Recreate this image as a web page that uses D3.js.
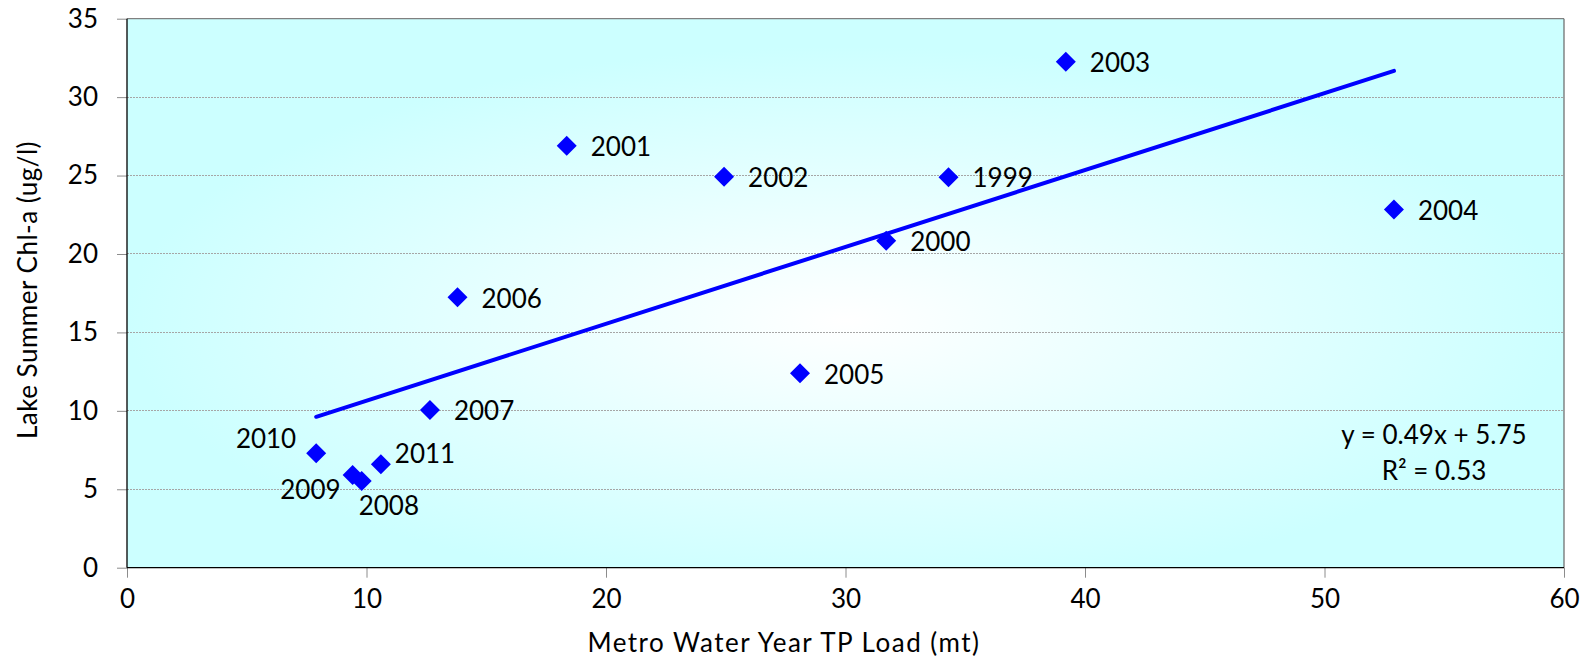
<!DOCTYPE html>
<html>
<head>
<meta charset="utf-8">
<script src="https://cdn.jsdelivr.net/npm/d3@7"></script>
<style>
  html, body { margin: 0; padding: 0; background: #ffffff; }
  svg { display: block; font-family: Lato, "Open Sans", sans-serif; }
</style>
</head>
<body>
<svg id="chart" width="1586" height="663"></svg>
<script>
// ---- data ----
const years  = ["1999","2000","2001","2002","2003","2004","2005","2006","2007","2008","2009","2010","2011"];
const tpLoad = [34.3, 31.7, 18.36, 24.93, 39.2, 52.9, 28.1, 13.8, 12.65, 9.8, 9.42, 7.9, 10.6];
const chla   = [24.9, 20.85, 26.9, 24.93, 32.26, 22.84, 12.4, 17.24, 10.05, 5.53, 5.91, 7.29, 6.59];
const xTicks = [0, 10, 20, 30, 40, 50, 60];
const yTicks = [0, 5, 10, 15, 20, 25, 30, 35];
const trendSlope = 0.49;
const trendIntercept = 5.75;
const equationLines = ["y = 0.49x + 5.75", "R\u00B2 = 0.53"];
const xTitle = "Metro Water Year TP Load (mt)";
const yTitle = "Lake Summer Chl-a (ug/l)";

// label placement (style): default right of the marker
const labelPlace = {
  "2010": {anchor: "end",   dx: -20, dy: -15},
  "2011": {anchor: "start", dx: 14,  dy: -11},
  "2009": {anchor: "end",   dx: -12, dy: 15},
  "2008": {anchor: "start", dx: -3,  dy: 25}
};
const defaultPlace = {anchor: "start", dx: 24, dy: 1};

// ---- layout ----
const L = 127, T = 18.7, R = 1564, B = 567.7;
const FONT = "Lato, 'Open Sans', sans-serif";
const svg = d3.select("#chart");
const x = d3.scaleLinear().domain([0, 60]).range([L, R]);
const y = d3.scaleLinear().domain([0, 35]).range([B, T]);

// background gradient
const defs = svg.append("defs");
const grad = defs.append("radialGradient").attr("id", "bg")
  .attr("cx", "0.5").attr("cy", "0.55").attr("r", "0.5").attr("fx", "0.5").attr("fy", "0.55");
grad.append("stop").attr("offset", "0").attr("stop-color", "#ffffff");
grad.append("stop").attr("offset", "1").attr("stop-color", "#ccffff");

svg.append("rect").attr("x", L).attr("y", T).attr("width", R - L).attr("height", B - T)
  .attr("fill", "url(#bg)");

// gridlines
svg.append("g").selectAll("line").data(yTicks.filter(d => d > 0 && d < 35)).join("line")
  .attr("x1", L).attr("x2", R).attr("y1", d => y(d)).attr("y2", d => y(d))
  .attr("stroke", "#a6a6a6").attr("stroke-width", 1).attr("stroke-dasharray", "2,1")
  .attr("shape-rendering", "crispEdges");

// top & right border
svg.append("line").attr("x1", L).attr("x2", R).attr("y1", y(35)).attr("y2", y(35))
  .attr("stroke", "#808080").attr("stroke-width", 1.2);
svg.append("line").attr("x1", R).attr("x2", R).attr("y1", T).attr("y2", B)
  .attr("stroke", "#666666").attr("stroke-width", 1.2);

// axes
const xAxis = d3.axisBottom(x).tickValues(xTicks).tickSize(10).tickPadding(12).tickFormat(d3.format("d"));
const yAxis = d3.axisLeft(y).tickValues(yTicks).tickSize(10).tickPadding(19).tickFormat(d3.format("d"));

const gx = svg.append("g").attr("transform", `translate(0,${B})`).call(xAxis);
const gy = svg.append("g").attr("transform", `translate(${L},0)`).call(yAxis);
[gx, gy].forEach(g => {
  g.select(".domain").remove();
  g.selectAll(".tick line").attr("stroke", "#8c8c8c").attr("stroke-width", 1);
  g.selectAll(".tick text").attr("fill", "#000").style("font-size", "26px").style("font-family", FONT);
});
// axis lines
svg.append("line").attr("x1", L).attr("x2", L).attr("y1", T).attr("y2", B).attr("stroke", "#000").attr("stroke-width", 1.3);
svg.append("line").attr("x1", L).attr("x2", R).attr("y1", B).attr("y2", B).attr("stroke", "#000").attr("stroke-width", 1.3);

// trend line over the range of the data
const tx = d3.extent(tpLoad);
svg.append("line")
  .attr("x1", x(tx[0])).attr("y1", y(trendSlope * tx[0] + trendIntercept))
  .attr("x2", x(tx[1])).attr("y2", y(trendSlope * tx[1] + trendIntercept))
  .attr("stroke", "#0000ff").attr("stroke-width", 4).attr("stroke-linecap", "round");

// points (diamonds)
const pts = years.map((yr, i) => ({yr, xv: tpLoad[i], yv: chla[i]}));
svg.append("g").selectAll("path").data(pts).join("path")
  .attr("d", d3.symbol().type(d3.symbolSquare).size(200))
  .attr("transform", d => `translate(${x(d.xv)},${y(d.yv)}) rotate(45)`)
  .attr("fill", "#0000ff");

// point labels
svg.append("g").selectAll("text").data(pts).join("text")
  .attr("x", d => x(d.xv) + (labelPlace[d.yr] || defaultPlace).dx)
  .attr("y", d => y(d.yv) + (labelPlace[d.yr] || defaultPlace).dy)
  .attr("dy", "0.36em")
  .attr("text-anchor", d => (labelPlace[d.yr] || defaultPlace).anchor)
  .style("font-size", "26px").attr("fill", "#000")
  .text(d => d.yr);

// equation
svg.append("g").selectAll("text").data(equationLines).join("text")
  .attr("x", 1434).attr("y", (d, i) => 444 + i * 36)
  .attr("text-anchor", "middle").style("font-size", "26px").attr("fill", "#000")
  .text(d => d);

// axis titles
svg.append("text").attr("x", 784).attr("y", 652).attr("text-anchor", "middle")
  .style("font-size", "26px").style("letter-spacing", "1.5px").attr("fill", "#000").text(xTitle);
svg.append("text").attr("transform", "translate(37,290) rotate(-90)").attr("text-anchor", "middle")
  .style("font-size", "26px").style("letter-spacing", "0.5px").attr("fill", "#000").text(yTitle);
</script>
</body>
</html>
